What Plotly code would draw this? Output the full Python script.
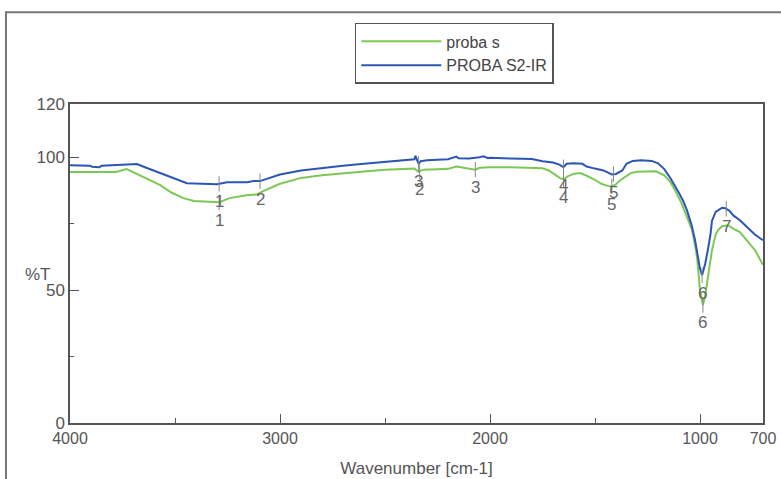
import numpy as np
import plotly.graph_objects as go

# ---- data ----
green_wn = [4000, 3900, 3780, 3730, 3705, 3650, 3570, 3520, 3460, 3410, 3320, 3290, 3240, 3160,
            3110, 3080, 3000, 2900, 2800, 2700, 2600, 2500, 2400, 2360, 2340, 2320, 2250, 2200,
            2160, 2140, 2110, 2080, 2070, 2050, 2000, 1900, 1800, 1750, 1720, 1690, 1665, 1650,
            1630, 1600, 1570, 1540, 1500, 1470, 1440, 1420, 1400, 1380, 1350, 1330, 1300, 1260,
            1210, 1170, 1140, 1119, 1090, 1071, 1050, 1038, 1025, 1014, 1000, 986, 975, 967,
            955, 943, 925, 914, 895, 867, 840, 810, 780, 738, 705, 700]
green_t = [94.4, 94.4, 94.4, 95.5, 94.6, 92.5, 89.5, 86.8, 84.6, 83.5, 83.2, 83.0, 84.6, 85.7,
           86.0, 87.2, 90.0, 92.2, 93.2, 94.0, 94.6, 95.3, 95.6, 95.7, 94.5, 95.3, 95.5, 95.6,
           96.5, 96.2, 95.7, 95.5, 95.3, 96.0, 96.2, 96.2, 96.0, 95.8, 95.0, 93.5, 92.0, 91.7,
           92.8, 93.8, 94.0, 93.0, 91.5, 90.0, 89.2, 89.0, 89.8, 91.3, 93.0, 94.0, 94.5, 94.7,
           94.7, 93.2, 90.5, 87.6, 83.0, 79.3, 75.0, 72.6, 67.5, 62.4, 50.0, 44.4, 48.0, 52.6,
           59.0, 65.0, 71.0, 72.6, 74.0, 74.4, 73.0, 71.8, 69.0, 65.0, 60.2, 59.5]

blue_wn = [4000, 3905, 3895, 3860, 3850, 3800, 3750, 3681, 3643, 3571, 3490, 3443, 3300, 3252,
           3157, 3125, 3095, 3050, 3000, 2900, 2800, 2700, 2600, 2500, 2400, 2360, 2355, 2345,
           2340, 2330, 2300, 2200, 2160, 2150, 2100, 2050, 2030, 2010, 2000, 1900, 1800, 1750,
           1700, 1670, 1650, 1635, 1600, 1560, 1540, 1500, 1460, 1420, 1400, 1370, 1350, 1320,
           1280, 1230, 1200, 1170, 1140, 1100, 1080, 1062, 1040, 1024, 1010, 1000, 990, 975,
           962, 950, 943, 925, 914, 895, 880, 860, 840, 810, 780, 740, 714, 700]
blue_t = [97.0, 96.8, 96.4, 96.2, 96.8, 97.0, 97.0, 97.4, 96.2, 94.0, 91.7, 90.2, 89.8, 90.6,
          90.6, 91.0, 91.0, 92.3, 93.5, 95.0, 96.0, 96.8, 97.5, 98.2, 99.0, 99.2, 100.5, 98.5,
          97.5, 98.5, 98.8, 99.2, 100.2, 99.6, 99.5, 100.0, 100.3, 99.6, 99.8, 99.5, 99.3, 98.5,
          98.0, 97.2, 96.2, 97.5, 97.7, 97.5, 96.5, 95.7, 95.0, 93.5, 93.7, 95.0, 97.5, 98.6,
          98.8, 98.6, 97.7, 95.5, 92.0, 86.5, 83.5, 80.0, 74.5, 69.0, 63.0, 58.0, 55.6, 60.0,
          65.4, 71.0, 76.0, 79.5, 80.0, 81.0, 80.8, 79.8, 78.0, 76.3, 74.0, 71.0, 69.5, 68.8]

green_peak_wn = [3290, 2335, 2070, 1650, 1420, 986]
green_peak_lbl = ["1", "2", "3", "4", "5", "6"]
blue_peak_wn = [3290, 3095, 2340, 1650, 1412, 990, 875]
blue_peak_lbl = ["1", "2", "3", "4", "5", "6", "7"]

series_names = ["proba s", "PROBA S2-IR"]
green = "#7cc855"
blue = "#2b56b4"

x_tick_vals = [4000, 3000, 2000, 1000, 700]
x_minor_vals = [3500, 2500, 1500]
y_tick_vals = [0, 50, 100, 120]
y_minor_vals = [25, 75]

FONT = "Liberation Sans, Arial, sans-serif"

fig = go.Figure()
fig.add_trace(go.Scatter(x=green_wn, y=green_t, mode="lines", name=series_names[0],
                         line=dict(color=green, width=2)))
fig.add_trace(go.Scatter(x=blue_wn, y=blue_t, mode="lines", name=series_names[1],
                         line=dict(color=blue, width=2)))


def peak_y(wn_list, t_list, peaks):
    xs = np.array(wn_list[::-1], dtype=float)
    ys = np.array(t_list[::-1], dtype=float)
    return list(np.interp(peaks, xs, ys))


annotations = []
for wn, t, pk, lb in [(green_wn, green_t, green_peak_wn, green_peak_lbl),
                      (blue_wn, blue_t, blue_peak_wn, blue_peak_lbl)]:
    py = peak_y(wn, t, pk)
    fig.add_trace(go.Scatter(x=pk, y=py, mode="markers", showlegend=False, hoverinfo="skip",
                             marker=dict(symbol="line-ns", size=11,
                                         line=dict(color="#888888", width=1))))
    for xv, yv, s in zip(pk, py, lb):
        annotations.append(dict(x=xv, y=yv, text=s, showarrow=False, yshift=-18,
                                font=dict(family=FONT, size=17, color="#666666")))

annotations.append(dict(xref="paper", yref="paper", x=-0.068, y=0.464, text="%T",
                        showarrow=False, font=dict(family=FONT, size=17, color="#555555")))

frame = dict(type="path", xref="paper", yref="paper",
             path="M -0.0924,-0.3 L -0.0924,1.288 L 1.3,1.288",
             line=dict(color="#777777", width=2))

fig.update_layout(
    width=781, height=479,
    margin=dict(l=70, r=18, t=104, b=56),
    paper_bgcolor="white", plot_bgcolor="white",
    font=dict(family=FONT, size=17, color="#555555"),
    shapes=[frame],
    annotations=annotations,
    showlegend=True,
    legend=dict(x=0.411, y=1.254, xanchor="left", yanchor="top",
                bordercolor="#555555", borderwidth=1.5, bgcolor="white",
                font=dict(family=FONT, size=16, color="#444444"),
                itemwidth=80, tracegroupgap=0),
    xaxis=dict(range=[4000, 700], tickvals=x_tick_vals, ticktext=[str(v) for v in x_tick_vals],
               ticks="inside", ticklen=9, tickcolor="#555555", tickwidth=1,
               minor=dict(tickvals=x_minor_vals, ticks="inside", ticklen=5,
                          tickcolor="#555555", tickwidth=1),
               showline=True, linecolor="#555555", linewidth=1.5, mirror=True,
               showgrid=False, zeroline=False, automargin=False,
               tickfont=dict(family=FONT, size=16, color="#555555"),
               title=dict(text="Wavenumber [cm-1]", standoff=16,
                          font=dict(family=FONT, size=17, color="#555555"))),
    yaxis=dict(range=[0, 120], tickvals=y_tick_vals, ticks="inside", ticklen=9,
               tickcolor="#555555", tickwidth=1,
               minor=dict(tickvals=y_minor_vals, ticks="inside", ticklen=4,
                          tickcolor="#555555", tickwidth=1),
               showline=True, linecolor="#555555", linewidth=1.5, mirror=True,
               showgrid=False, zeroline=False, automargin=False,
               tickfont=dict(family=FONT, size=17, color="#555555")),
)

fig.write_html("out.html")
